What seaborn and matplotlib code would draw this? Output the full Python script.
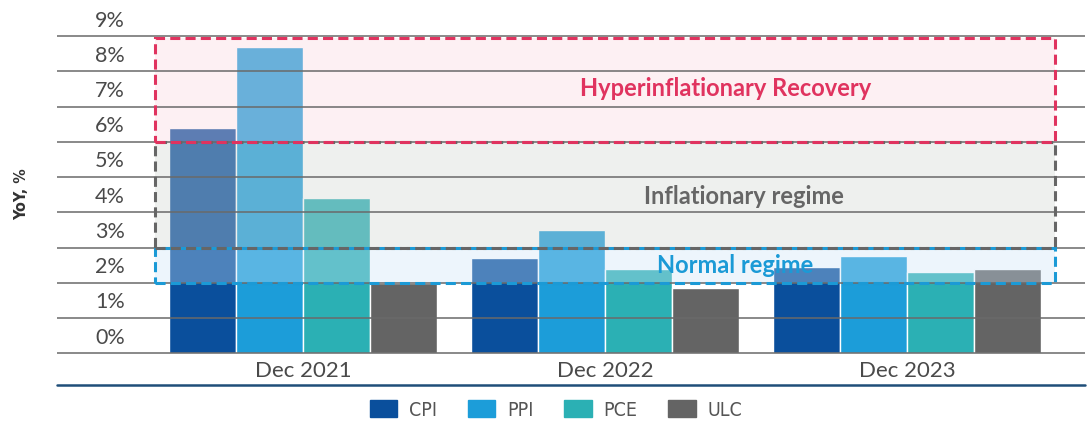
import matplotlib
matplotlib.use("Agg")
import matplotlib.pyplot as plt
import matplotlib.patches as mpatches
import matplotlib.transforms as mtransforms
import seaborn as sns
import pandas as pd

# ── Veri ──────────────────────────────────────────────────────────────────────
periods = ["Dec 2021", "Dec 2022", "Dec 2023"]
series = ["CPI", "PPI", "PCE", "ULC"]
cpi = [6.4, 2.7, 2.45]
ppi = [8.7, 3.5, 2.75]
pce = [4.4, 2.4, 2.3]
ulc = [2.0, 1.85, 2.4]

y_ticks = [0, 1, 2, 3, 4, 5, 6, 7, 8, 9]
y_tick_labels = [f"{t}%" for t in y_ticks]

# rejim bantları: (etiket, alt, üst)
regime_names = ["Normal regime", "Inflationary regime", "Hyperinflationary Recovery"]
regime_low = [2, 3, 6]
regime_high = [3, 6, 9]

# ── Stil ──────────────────────────────────────────────────────────────────────
sns.set_theme(style="white")
plt.rcParams["font.family"] = ["Lato", "DejaVu Sans"]

SERIES_COLORS = ["#0a4f9c", "#1c9dd9", "#2bb0b4", "#646464"]
REGIME_STYLE = {
    "Normal regime":              dict(fill=(0.80, 0.89, 0.97, 0.35), edge="#1b9ad6", text="#1b9ad6"),
    "Inflationary regime":        dict(fill=(0.82, 0.83, 0.82, 0.35), edge="#666666", text="#666666"),
    "Hyperinflationary Recovery": dict(fill=(0.98, 0.83, 0.87, 0.35), edge="#e0335f", text="#e0335f"),
}
REGIME_TEXT_POS = {
    "Normal regime":              (1.43, 2.48),
    "Inflationary regime":        (1.46, 4.45),
    "Hyperinflationary Recovery": (1.40, 7.5),
}

df = pd.DataFrame({
    "period": periods * 4,
    "series": sum([[s] * len(periods) for s in series], []),
    "value": cpi + ppi + pce + ulc,
})

fig = plt.figure(figsize=(10.88, 4.25), dpi=100)
ax = fig.add_axes([57 / 1088, 71 / 425, 1028 / 1088, 319 / 425])

sns.barplot(data=df, x="period", y="value", hue="series", order=periods,
            hue_order=series, palette=SERIES_COLORS, width=0.89, saturation=1,
            ax=ax, legend=False, zorder=1)

# rejim kutuları (çubukların üstünde yarı saydam)
for name, lo, hi in zip(regime_names, regime_low, regime_high):
    st = REGIME_STYLE[name]
    top = hi - 0.05 if hi == 9 else hi
    ax.add_patch(mpatches.Rectangle((-0.49, lo), 2.98, top - lo,
                                    facecolor=st["fill"], edgecolor="none", zorder=2))
order_edges = [1, 0, 2]
for i in order_edges:
    name, lo, hi = regime_names[i], regime_low[i], regime_high[i]
    st = REGIME_STYLE[name]
    top = hi - 0.05 if hi == 9 else hi
    ax.add_patch(mpatches.Rectangle((-0.49, lo), 2.98, top - lo, fill=False,
                                    edgecolor=st["edge"], lw=2.2,
                                    linestyle=(0, (3.3, 1.7)), zorder=3 + i * 0.1))
    tx, ty = REGIME_TEXT_POS[name]
    ax.text(tx, ty, name, ha="center", va="center", fontsize=17,
            fontweight="bold", color=st["text"], zorder=4)

ax.set_xlim(-0.815, 2.59)
ax.set_ylim(-0.02, 9.03)
ax.set_yticks(y_ticks)
ax.set_axisbelow(False)
ax.yaxis.grid(True, color="#6a6a6a", lw=1.3, alpha=0.85)
ax.xaxis.grid(False)
for sp in ax.spines.values():
    sp.set_visible(False)
ax.tick_params(axis="y", length=0, labelleft=False)
ax.tick_params(axis="x", length=0, labelsize=16, labelcolor="#4a4a4a", pad=5)
ax.set_xlabel("")
ax.set_ylabel("")

# y etiketleri çizgilerin hemen üstünde
trans = mtransforms.blended_transform_factory(ax.transAxes, ax.transData)
for t, lab in zip(y_ticks, y_tick_labels):
    ax.annotate(lab, xy=(0.066, t), xycoords=trans, xytext=(0, 4),
                textcoords="offset points", ha="right", va="bottom",
                fontsize=15.5, color="#4a4a4a", annotation_clip=False)

ax.text(-0.034, 0.5, "YoY, %", transform=ax.transAxes, rotation=90,
        ha="center", va="center", fontsize=11.5, fontweight="bold",
        color="#333333", family="DejaVu Sans", fontstretch="condensed")

# alt ayırıcı çizgi
ax.plot([0, 1], [-0.097, -0.097], transform=ax.transAxes, clip_on=False,
        color="#1f4e79", lw=1.8)

handles = [mpatches.Patch(color=c, label=s) for s, c in zip(series, SERIES_COLORS)]
leg = fig.legend(handles=handles, loc="center", bbox_to_anchor=(556 / 1088, 15 / 425),
                 ncol=4, frameon=False, handlelength=1.4, handleheight=0.95,
                 handletextpad=0.6, columnspacing=1.6,
                 prop=dict(family="DejaVu Sans", stretch="condensed", size=14))
for txt in leg.get_texts():
    txt.set_color("#555555")

plt.savefig("out.png", dpi=100)
plt.close()
